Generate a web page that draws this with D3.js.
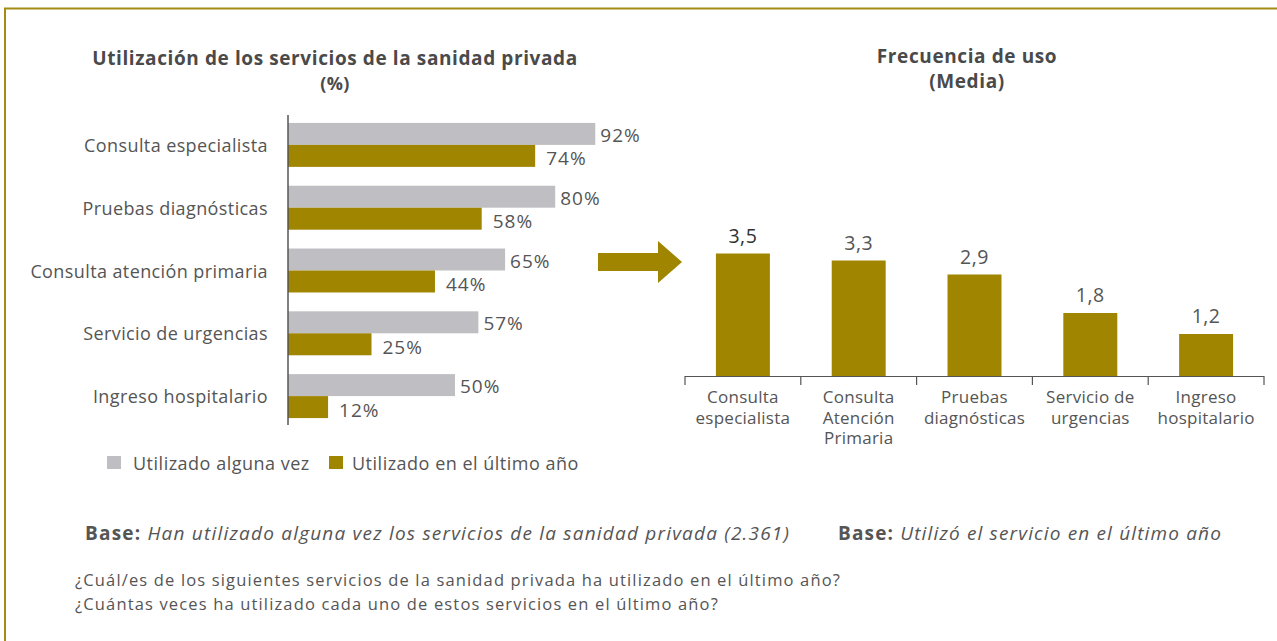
<!DOCTYPE html>
<html><head><meta charset="utf-8">
<script src="https://cdn.jsdelivr.net/npm/d3@7"></script>
<style>
body{margin:0;background:#fff;}
svg{display:block;font-family:"Open Sans",sans-serif;}
</style></head>
<body>
<svg id="c" width="1277" height="641"></svg>
<script>
const leftCategories = ["Consulta especialista","Pruebas diagnósticas","Consulta atención primaria","Servicio de urgencias","Ingreso hospitalario"];
const everUsed = [92,80,65,57,50];
const lastYear = [74,58,44,25,12];
const seriesNames = ["Utilizado alguna vez","Utilizado en el último año"];
const rightCategories = ["Consulta\nespecialista","Consulta\nAtención\nPrimaria","Pruebas\ndiagnósticas","Servicio de\nurgencias","Ingreso\nhospitalario"];
const frequency = [3.5,3.3,2.9,1.8,1.2];

const GOLD = "#a08500", GRAY = "#bfbfc3", TXT = "#555", TITLE = "#4a4a4a";
const svg = d3.select("#c");

// frame
svg.append("line").attr("x1",4).attr("x2",1277).attr("y1",8.5).attr("y2",8.5).attr("stroke","#a48b14").attr("stroke-width",2);
svg.append("line").attr("x1",5).attr("x2",5).attr("y1",8).attr("y2",641).attr("stroke","#a48b14").attr("stroke-width",2);

// ---- Left chart
svg.append("text").attr("x",335).attr("y",65).attr("text-anchor","middle").attr("font-weight","bold").attr("font-size",19).attr("letter-spacing",0.6).attr("fill",TITLE).text("Utilización de los servicios de la sanidad privada");
svg.append("text").attr("x",335).attr("y",90).attr("text-anchor","middle").attr("font-weight","bold").attr("font-size",18).attr("letter-spacing",0.3).attr("fill",TITLE).text("(%)");

const xL = d3.scaleLinear().domain([0,100]).range([288,622]);
const yL = d3.scaleBand().domain(leftCategories).range([113.5,427.5]).paddingInner(0.3).paddingOuter(0.15);
const bh = yL.bandwidth()/2;

const gL = svg.append("g");
leftCategories.forEach((c,i)=>{
  const y0 = yL(c);
  gL.append("rect").attr("x",xL(0)).attr("y",y0).attr("width",xL(everUsed[i])-xL(0)).attr("height",bh).attr("fill",GRAY);
  gL.append("rect").attr("x",xL(0)).attr("y",y0+bh).attr("width",xL(lastYear[i])-xL(0)).attr("height",bh).attr("fill",GOLD);
  gL.append("text").attr("x",xL(everUsed[i])+5).attr("y",y0+bh/2+8).attr("font-size",19).attr("letter-spacing",1).attr("fill",TXT).text(everUsed[i]+"%");
  gL.append("text").attr("x",xL(lastYear[i])+11).attr("y",y0+bh*1.5+9.5).attr("font-size",19).attr("letter-spacing",1).attr("fill",TXT).text(lastYear[i]+"%");
});
const axL = svg.append("g").attr("transform",`translate(${xL(0)},0)`)
  .call(d3.axisLeft(yL).tickSize(0).tickPadding(20));
axL.select(".domain").attr("stroke","#555").attr("stroke-width",1.5).attr("d","M0,115V425");
axL.selectAll("text").attr("font-size",18).attr("letter-spacing",0.4).attr("fill",TXT).attr("font-family","Open Sans").attr("dy",null).attr("y",7);

// legend
const lg = svg.append("g");
[[107,GRAY,133],[329,GOLD,352]].forEach((d,i)=>{
  lg.append("rect").attr("x",d[0]).attr("y",456).attr("width",14).attr("height",13).attr("fill",d[1]);
  lg.append("text").attr("x",d[2]).attr("y",470).attr("font-size",18).attr("letter-spacing",0.5).attr("fill",TXT).text(seriesNames[i]);
});

// arrow
svg.append("path").attr("fill",GOLD)
  .attr("d","M598,253H658V241L682,262L658,283V271H598Z");

// ---- Right chart
svg.append("text").attr("x",967).attr("y",63).attr("text-anchor","middle").attr("font-weight","bold").attr("font-size",19).attr("letter-spacing",0.6).attr("fill",TITLE).text("Frecuencia de uso");
svg.append("text").attr("x",967).attr("y",88).attr("text-anchor","middle").attr("font-weight","bold").attr("font-size",19).attr("letter-spacing",0.6).attr("fill",TITLE).text("(Media)");

const xR = d3.scaleBand().domain(rightCategories).range([685,1264]).paddingInner(0.534).paddingOuter(0.267);
const xT = d3.scaleBand().domain(rightCategories).range([685,1264]).padding(0);
const yR = d3.scaleLinear().domain([0,4]).range([376,236]);
const fmt = v => d3.format(".1f")(v).replace(".",",");

const gR = svg.append("g");
rightCategories.forEach((c,i)=>{
  gR.append("rect").attr("x",xR(c)).attr("y",yR(frequency[i])).attr("width",xR.bandwidth()).attr("height",yR(0)-yR(frequency[i])).attr("fill",GOLD);
  gR.append("text").attr("x",xR(c)+xR.bandwidth()/2).attr("y",yR(frequency[i])-11).attr("text-anchor","middle").attr("font-size",19.5).attr("letter-spacing",0.5).attr("fill",i===0?"#333":TXT).text(fmt(frequency[i]));
});
gR.append("line").attr("x1",xT.range()[0]).attr("x2",xT.range()[1]).attr("y1",376.5).attr("y2",376.5).attr("stroke","#555").attr("stroke-width",1.2);
const edges = rightCategories.map(c=>xT(c)).concat([xT.range()[1]]);
edges.forEach(x=>{
  gR.append("line").attr("x1",x).attr("x2",x).attr("y1",376).attr("y2",385).attr("stroke","#555").attr("stroke-width",1.2);
});
rightCategories.forEach(c=>{
  const t = gR.append("text").attr("text-anchor","middle").attr("font-size",17).attr("letter-spacing",0.25).attr("fill",TXT);
  c.split("\n").forEach((ln,j)=>{
    t.append("tspan").attr("x",xR(c)+xR.bandwidth()/2).attr("y",403+j*20.5).text(ln);
  });
});

// ---- Footer
const f1 = svg.append("text").attr("x",85).attr("y",540).attr("font-size",19).attr("letter-spacing",1.2).attr("fill",TXT);
f1.append("tspan").attr("font-weight","bold").text("Base: ");
f1.append("tspan").attr("font-style","italic").text("Han utilizado alguna vez los servicios de la sanidad privada (2.361)");
const f2 = svg.append("text").attr("x",838).attr("y",540).attr("font-size",19).attr("letter-spacing",1.15).attr("fill",TXT);
f2.append("tspan").attr("font-weight","bold").text("Base: ");
f2.append("tspan").attr("font-style","italic").text("Utilizó el servicio en el último año");
svg.append("text").attr("x",75).attr("y",586).attr("font-size",16.5).attr("letter-spacing",1.15).attr("fill",TXT).text("¿Cuál/es de los siguientes servicios de la sanidad privada ha utilizado en el último año?");
svg.append("text").attr("x",75).attr("y",610).attr("font-size",16.5).attr("letter-spacing",1.15).attr("fill",TXT).text("¿Cuántas veces ha utilizado cada uno de estos servicios en el último año?");
</script>
</body></html>
